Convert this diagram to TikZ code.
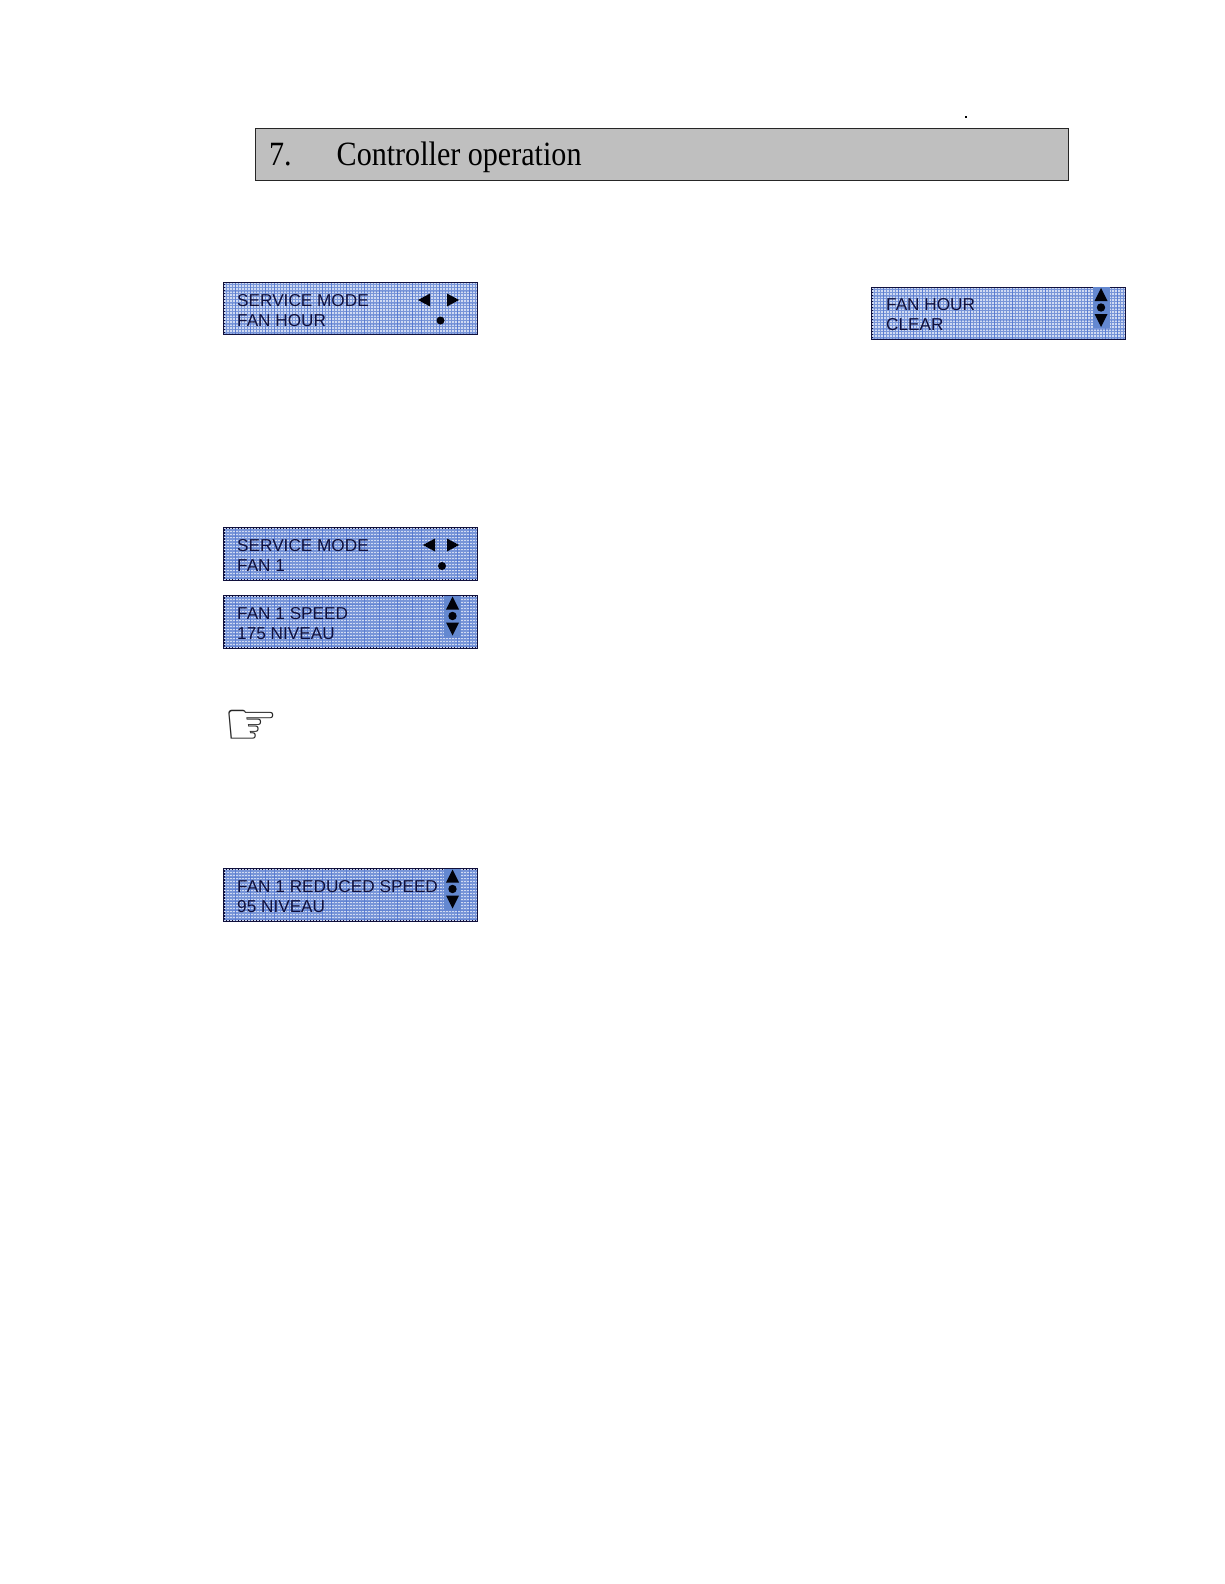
\documentclass[tikz,border=0pt]{standalone}
\usepackage{fontspec}
\setmainfont{Liberation Serif}
\setsansfont{Liberation Sans}
\newfontfamily\symfont{DejaVu Sans}
\definecolor{lcdbase}{HTML}{7895D8}
\definecolor{lcddot}{HTML}{D0DAF2}
\definecolor{lcdgrid}{HTML}{4F74CF}
\definecolor{lcdink}{HTML}{10103C}
\definecolor{lcdkey}{HTML}{6488D0}
\definecolor{headgrey}{HTML}{BFBFBF}
\tikzset{
  x=1pt,y=-1pt,
  lcd/.style={fill=lcdbase,draw=lcdink,line width=1pt,minimum width=253pt,minimum height=51.5pt,inner sep=0pt,anchor=north west},
  lcdtext/.style={font=\sffamily\fontsize{17.2}{17.2}\selectfont,text=lcdink,anchor=base west,inner sep=0pt},
  key/.style={fill=black!85!lcdink,draw=none},
  headtext/.style={font=\fontsize{34}{34}\selectfont,anchor=base west,inner sep=0pt,xscale=.885,transform shape},
}
\newcommand{\lcdtexture}[1]{%
  \begin{scope}
    \clip (#1.north west) rectangle (#1.south east);
    \foreach \k in {0,...,84}{
      \draw[lcddot,line width=1.5pt,dash pattern=on 1.5pt off 1.5pt] ([xshift=\k*3pt+1.5pt]#1.north west) -- ([xshift=\k*3pt+1.5pt]#1.south west);
    }
    \foreach \k in {0,4,9,14,17,22,28,33,36,41,47,52,58,63,66,72,78,82}{
      \draw[lcdgrid,line width=.8pt,opacity=.7] ([xshift=\k*3pt]#1.north west) -- ([xshift=\k*3pt]#1.south west);
    }
    \foreach \k in {0,3,7,11,14,17}{
      \draw[lcdgrid,line width=.7pt,opacity=.45] ([yshift=-\k*3pt]#1.north west) -- ([yshift=-\k*3pt]#1.north east);
    }
  \end{scope}
  \draw[lcdink,line width=1pt] (#1.north west) rectangle (#1.south east);
}
\newcommand{\leftright}[3]{%
  \fill[key] (#1-6,#3) -- (#1+6,#3-6.5) -- (#1+6,#3+6.5) -- cycle;
  \fill[key] (#2+6,#3) -- (#2-6,#3-6.5) -- (#2-6,#3+6.5) -- cycle;
}
\newcommand{\updown}[2]{%
  \fill[lcdkey] (#1-8.5,#2) rectangle (#1+8.5,#2+41);
  \fill[key] (#1,#2+1) -- (#1+6.5,#2+14) -- (#1-6.5,#2+14) -- cycle;
  \fill[key] (#1,#2+20.5) circle (4.2pt);
  \fill[key] (#1,#2+40) -- (#1+6.5,#2+27) -- (#1-6.5,#2+27) -- cycle;
}
\begin{document}
\begin{tikzpicture}
\useasboundingbox (0,0) rectangle (1224,1584);
\fill[white] (0,0) rectangle (1224,1584);
% heading
\node[draw=black!85,line width=1.1pt,fill=headgrey,minimum width=813pt,minimum height=52pt,inner sep=0pt,anchor=north west] (head) at (254.8,128.3) {};
\node[headtext] (hnum) at (269,165.5) {7.};
\node[headtext] (htitle) at (336.5,165.5) {Controller operation};
\fill[black] (964.5,116.5) rectangle (967,118);
% displays
\node[lcd] (d1) at (223.5,282.2) {};
\lcdtexture{d1}
\node[lcd] (d2) at (871.7,287) {};
\lcdtexture{d2}
\node[lcd] (d3) at (223.5,527.5) {};
\lcdtexture{d3}
\node[lcd] (d4) at (223.5,595.5) {};
\lcdtexture{d4}
\node[lcd] (d5) at (223.5,868.5) {};
\lcdtexture{d5}
% texts
\node[lcdtext] (t1a) at (237,306) {SERVICE MODE};
\node[lcdtext] (t1b) at (237,326) {FAN HOUR};
\leftright{424}{453}{300}
\fill[key] (440.5,320.5) circle (4pt);
\node[lcdtext] (t2a) at (886,310.5) {FAN HOUR};
\node[lcdtext] (t2b) at (886,330.5) {CLEAR};
\updown{1101}{287}
\node[lcdtext] (t3a) at (237,551) {SERVICE MODE};
\node[lcdtext] (t3b) at (237,571) {FAN 1};
\leftright{429}{453}{545}
\fill[key] (442,566) circle (4pt);
\node[lcdtext] (t4a) at (237,619) {FAN 1 SPEED};
\node[lcdtext] (t4b) at (237,639) {175 NIVEAU};
\updown{452.5}{595.5}
\node[lcdtext] (t5a) at (237,892) {FAN 1 REDUCED SPEED};
\node[lcdtext] (t5b) at (237,912) {95 NIVEAU};
\updown{452.5}{868.5}
% hand
\node[font=\symfont\fontsize{62}{62}\selectfont,inner sep=0pt,text=black!85] (hand) at (251,728) {☞};
\end{tikzpicture}
\end{document}
